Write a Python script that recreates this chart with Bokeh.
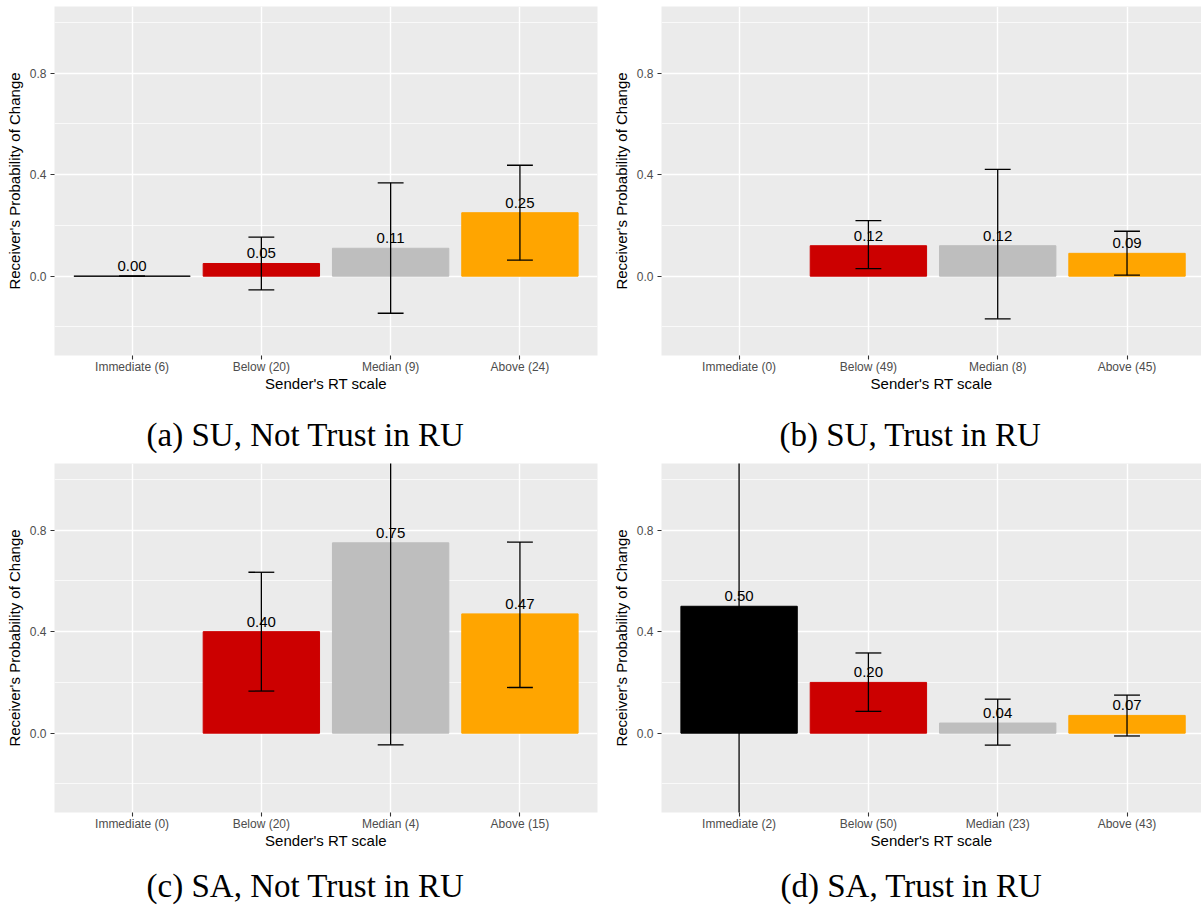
from bokeh.plotting import figure
from bokeh.layouts import column, row
from bokeh.models import ColumnDataSource, Range1d, FixedTicker, NumeralTickFormatter
from bokeh.core.properties import value
from bokeh.embed import file_html
from bokeh.resources import INLINE

# Sender response-time groups and their bar colours
categories = ["Immediate", "Below", "Median", "Above"]
bar_colors = ["black", "#CC0000", "#BEBEBE", "#FFA500"]

# (a) SU, Not Trust in RU
su_nt_n = [6, 20, 9, 24]
su_nt_p = [0.00, 0.05, 0.11, 0.25]
su_nt_lo = [0.00, -0.054, -0.146, 0.063]
su_nt_hi = [0.00, 0.154, 0.368, 0.437]

# (b) SU, Trust in RU
su_t_n = [0, 49, 8, 45]
su_t_p = [None, 0.12, 0.12, 0.09]
su_t_lo = [None, 0.030, -0.168, 0.004]
su_t_hi = [None, 0.219, 0.421, 0.177]

# (c) SA, Not Trust in RU
sa_nt_n = [0, 20, 4, 15]
sa_nt_p = [None, 0.40, 0.75, 0.47]
sa_nt_lo = [None, 0.166, -0.046, 0.180]
sa_nt_hi = [None, 0.634, 1.546, 0.753]

# (d) SA, Trust in RU
sa_t_n = [2, 50, 23, 43]
sa_t_p = [0.50, 0.20, 0.04, 0.07]
sa_t_lo = [-5.85, 0.086, -0.047, -0.011]
sa_t_hi = [6.85, 0.316, 0.134, 0.150]

captions = ["(a) SU, Not Trust in RU", "(b) SU, Trust in RU",
            "(c) SA, Not Trust in RU", "(d) SA, Trust in RU"]

y_major = [0.0, 0.4, 0.8]
y_minor = [-0.2, 0.2, 0.6, 1.0]

SANS = "Liberation Sans"
SERIF = "Liberation Serif"


def make_panel(n, p, lo, hi, width, height, left, right, top, bottom, x_end):
    xs = list(range(1, len(categories) + 1))
    keep = [i for i in range(len(categories)) if n[i] > 0]
    src = ColumnDataSource(dict(
        x=[xs[i] for i in keep],
        p=[p[i] for i in keep],
        lo=[lo[i] for i in keep],
        hi=[hi[i] for i in keep],
        cap0=[xs[i] - 0.1 for i in keep],
        cap1=[xs[i] + 0.1 for i in keep],
        color=[bar_colors[i] for i in keep],
        label=["%.2f" % p[i] for i in keep],
    ))

    fig = figure(width=width, height=height, output_backend="svg", toolbar_location=None,
                 x_range=Range1d(0.4, x_end), y_range=Range1d(-0.3125, 1.0625),
                 min_border_left=left, min_border_right=right,
                 min_border_top=top, min_border_bottom=bottom,
                 x_axis_label="Sender's RT scale",
                 y_axis_label="Receiver's Probability of Change")
    fig.background_fill_color = "#EBEBEB"
    fig.border_fill_color = "white"
    fig.outline_line_color = None

    fig.vbar(x="x", top="p", bottom=0, width=0.9, source=src,
             fill_color="color", line_color="color", line_width=1)
    fig.segment(x0="x", y0="lo", x1="x", y1="hi", source=src,
                line_color="black", line_width=1.3)
    fig.segment(x0="cap0", y0="lo", x1="cap1", y1="lo", source=src,
                line_color="black", line_width=1.3)
    fig.segment(x0="cap0", y0="hi", x1="cap1", y1="hi", source=src,
                line_color="black", line_width=1.3)
    fig.text(x="x", y="p", text="label", source=src, text_align="center",
             text_baseline="alphabetic", y_offset=-10, text_font_size="15px",
             text_font=value(SANS), text_color="black")

    xa = fig.xaxis[0]
    xa.ticker = FixedTicker(ticks=xs)
    xa.major_label_overrides = {xs[i]: "%s (%d)" % (categories[i], n[i]) for i in range(len(categories))}
    ya = fig.yaxis[0]
    ya.ticker = FixedTicker(ticks=y_major, minor_ticks=y_minor)
    ya.formatter = NumeralTickFormatter(format="0.0")

    for ax in (xa, ya):
        ax.axis_line_color = None
        ax.major_tick_line_color = "#333333"
        ax.major_tick_line_width = 1.1
        ax.major_tick_out = 4
        ax.major_tick_in = 0
        ax.minor_tick_line_color = None
        ax.major_label_text_color = "#4D4D4D"
        ax.major_label_text_font = SANS
        ax.major_label_text_font_size = "12px"
        ax.axis_label_text_font = SANS
        ax.axis_label_text_font_size = "15px"
        ax.axis_label_text_font_style = "normal"
        ax.axis_label_text_color = "black"
    xa.major_label_standoff = 0
    xa.axis_label_standoff = -2
    ya.major_label_standoff = 4
    ya.axis_label_standoff = 4

    fig.xgrid.grid_line_color = "white"
    fig.xgrid.grid_line_width = 1.4
    fig.ygrid.grid_line_color = "white"
    fig.ygrid.grid_line_width = 1.4
    fig.ygrid.minor_grid_line_color = "white"
    fig.ygrid.minor_grid_line_width = 0.7
    return fig


def make_caption(text, width, height, cx, cy):
    # a strip without axes that holds the sub-figure caption
    cap = figure(width=width, height=height, output_backend="svg", toolbar_location=None,
                 x_range=Range1d(0, width), y_range=Range1d(0, height),
                 x_axis_type=None, y_axis_type=None, min_border=0)
    cap.outline_line_color = None
    cap.grid.visible = False
    cap.background_fill_color = "white"
    cap.border_fill_color = "white"
    cap.text(x=[cx], y=[cy], text=[text], text_align="center", text_baseline="middle",
             text_font=value(SERIF), text_font_size="33px", text_color="black")
    return cap


pa = make_panel(su_nt_n, su_nt_p, su_nt_lo, su_nt_hi, 600, 395, 54, 3, 6, 40, 4.6)
pb = make_panel(su_t_n, su_t_p, su_t_lo, su_t_hi, 601, 395, 61, 0, 6, 40, 4.576)
pc = make_panel(sa_nt_n, sa_nt_p, sa_nt_lo, sa_nt_hi, 600, 400, 54, 3, 10, 41, 4.6)
pd = make_panel(sa_t_n, sa_t_p, sa_t_lo, sa_t_hi, 601, 400, 61, 0, 10, 41, 4.576)

ca = make_caption(captions[0], 600, 58, 305, 19)
cb = make_caption(captions[1], 601, 58, 310, 19)
cc = make_caption(captions[2], 600, 54, 305, 22)
cd = make_caption(captions[3], 601, 54, 311, 22)

layout = column(row(pa, pb, spacing=0), row(ca, cb, spacing=0),
                row(pc, pd, spacing=0), row(cc, cd, spacing=0), spacing=0)

open("out.html", "w").write(file_html(layout, INLINE))
